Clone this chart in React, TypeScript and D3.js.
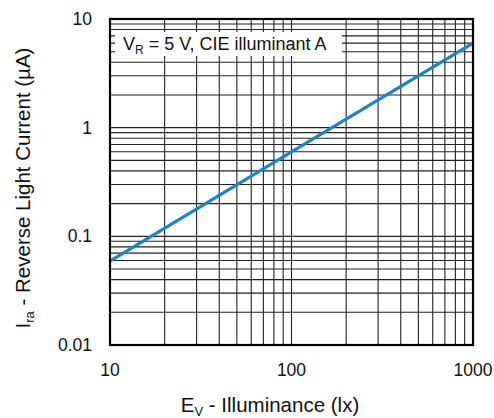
import React, { useEffect, useRef } from 'react';
import * as d3 from 'd3';

// Curve: E_V (lx) -> I_ra (µA)
const illuminance = [10, 100, 1000];
const reverseCurrent = [0.059, 0.6, 6.0];

const xDomain = [10, 1000];
const yDomain = [0.01, 10];
const xTickLabels = [10, 100, 1000];
const yTickLabels = [0.01, 0.1, 1, 10];

const FONT = '"Liberation Sans", Arial, Helvetica, sans-serif';

const App = () => {
    const svgRef = useRef(null);

    useEffect(() => {
        if (!svgRef.current) return;
        const width = 494;
        const height = 418;
        const margin = { top: 19, right: 21, bottom: 73, left: 110 };
        const w = width - margin.left - margin.right;
        const h = height - margin.top - margin.bottom;

        const svg = d3.select(svgRef.current);
        svg.selectAll('*').remove();
        svg.attr('width', width).attr('height', height);

        const g = svg.append('g').attr('transform', `translate(${margin.left},${margin.top})`);

        const x = d3.scaleLog().domain(xDomain).range([0, w]);
        const y = d3.scaleLog().domain(yDomain).range([h, 0]);

        // minor + major grid values (1..9 per decade)
        const xGrid: number[] = [];
        for (let d = 10; d < 1000; d *= 10) for (let m = 1; m < 10; m++) xGrid.push(d * m);
        const yGrid: number[] = [];
        for (let d = 0.01; d < 9; d *= 10) for (let m = 1; m < 10; m++) yGrid.push(+(d * m).toPrecision(3));

        g.append('g')
            .selectAll('line')
            .data(xGrid)
            .join('line')
            .attr('x1', d => x(d))
            .attr('x2', d => x(d))
            .attr('y1', 0)
            .attr('y2', h)
            .attr('stroke', '#222')
            .attr('stroke-width', 1.1);

        g.append('g')
            .selectAll('line')
            .data(yGrid)
            .join('line')
            .attr('x1', 0)
            .attr('x2', w)
            .attr('y1', d => y(d))
            .attr('y2', d => y(d))
            .attr('stroke', '#222')
            .attr('stroke-width', 1.1);

        // legend box
        const box = g.append('g').attr('transform', 'translate(5,13)');
        box.append('rect')
            .attr('x', 0)
            .attr('y', 0)
            .attr('width', 227)
            .attr('height', 24)
            .attr('fill', '#fff');
        const lt = box.append('text')
            .attr('x', 8)
            .attr('y', 18)
            .attr('font-family', FONT)
            .attr('font-size', 18)
            .attr('fill', '#111');
        lt.append('tspan').text('V');
        lt.append('tspan').attr('font-size', 12).attr('dy', 4).text('R');
        lt.append('tspan').attr('dy', -4).text(' = 5 V, CIE illuminant A');

        // curve
        const line = d3.line<number>()
            .x((d, i) => x(illuminance[i]))
            .y(d => y(d));
        g.append('path')
            .datum(reverseCurrent)
            .attr('fill', 'none')
            .attr('stroke', '#1b85c9')
            .attr('stroke-width', 3.2)
            .attr('d', line);

        // frame
        g.append('rect')
            .attr('x', 0)
            .attr('y', 0)
            .attr('width', w)
            .attr('height', h)
            .attr('fill', 'none')
            .attr('stroke', '#000')
            .attr('stroke-width', 2.2);

        // tick labels
        g.selectAll('.xt')
            .data(xTickLabels)
            .join('text')
            .attr('x', d => x(d))
            .attr('y', h + 31)
            .attr('text-anchor', 'middle')
            .attr('font-family', FONT)
            .attr('font-size', 17.5)
            .attr('fill', '#111')
            .text(d => String(d));

        g.selectAll('.yt')
            .data(yTickLabels)
            .join('text')
            .attr('x', -18)
            .attr('y', d => y(d) + 6)
            .attr('text-anchor', 'end')
            .attr('font-family', FONT)
            .attr('font-size', 17.5)
            .attr('fill', '#111')
            .text(d => String(d));

        // axis titles
        const xt = svg.append('text')
            .attr('x', 270)
            .attr('y', 412)
            .attr('text-anchor', 'middle')
            .attr('font-family', FONT)
            .attr('font-size', 20.5)
            .attr('fill', '#111');
        xt.append('tspan').text('E');
        xt.append('tspan').attr('font-size', 13).attr('dy', 4).text('V');
        xt.append('tspan').attr('dy', -4).text(' - Illuminance (lx)');

        const yt = svg.append('text')
            .attr('transform', 'translate(30,188) rotate(-90)')
            .attr('text-anchor', 'middle')
            .attr('font-family', FONT)
            .attr('font-size', 20.5)
            .attr('fill', '#111');
        yt.append('tspan').text('I');
        yt.append('tspan').attr('font-size', 13).attr('dy', 4).text('ra');
        yt.append('tspan').attr('dy', -4).text(' - Reverse Light Current (µA)');
    }, []);

    return (
        <div style={{ position: 'absolute', left: 0, top: 0 }}>
            <svg ref={svgRef} style={{ display: 'block' }}></svg>
        </div>
    );
};

export default App;
